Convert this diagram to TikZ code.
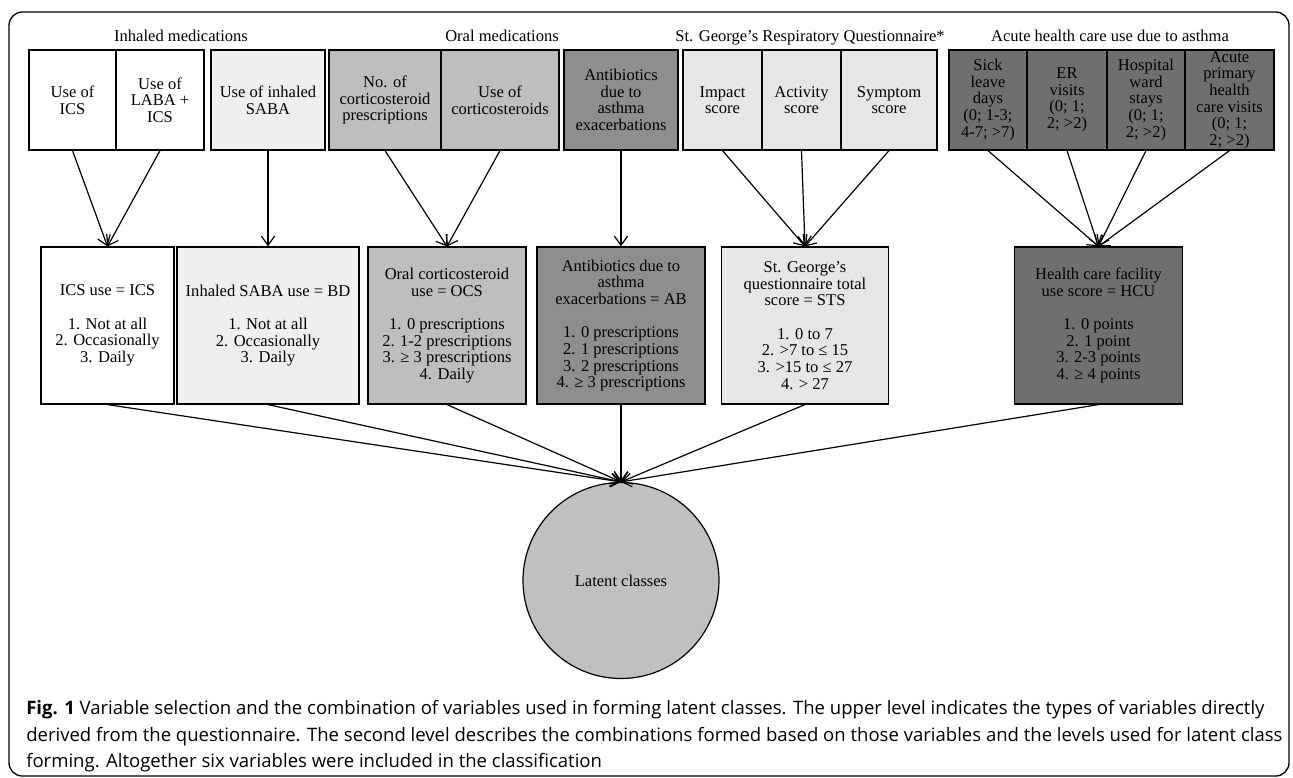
\documentclass[tikz,border=0pt]{standalone}
\usepackage{fontspec}
\setmainfont{Liberation Serif}
\newfontfamily\capfont{Open Sans}
\usetikzlibrary{arrows.meta}

\begin{document}
\begin{tikzpicture}[x=0.75pt,y=0.75pt,yscale=-1,xscale=1,
  txt/.style={font=\fontsize{12.4}{12.5}\selectfont, align=center, inner sep=0pt},
  wd/.style={minimum width=#1*0.75pt},
  varbox/.style={txt, draw, line width=0.9pt, minimum height=75pt},
  combbox/.style={txt, draw, line width=0.9pt, minimum height=117.75pt},
  grouptitle/.style={font=\fontsize{12.4}{12.5}\selectfont, inner sep=0pt, anchor=base},
  arr/.style={line width=0.9pt, -{Straight Barb[length=7pt,width=10pt]}},
  captxt/.style={font=\capfont\fontsize{13.9}{15}\selectfont, inner sep=0pt, anchor=base west}
]
\useasboundingbox (0,0) rectangle (1293,778);

%Shape: Rounded Rect [frame]
\draw [line width=1pt, rounded corners=10pt] (9,12) rectangle (1289,776) ;

% Text Node
\node (tinh) [grouptitle] at (181,41.5) {Inhaled medications};
% Text Node
\node (toral) [grouptitle] at (502,41.5) {Oral medications};
% Text Node
\node (tsgrq) [grouptitle] at (810,41.5) {St. George’s Respiratory Questionnaire*};
% Text Node
\node (tacute) [grouptitle] at (1110,41.5) {Acute health care use due to asthma};

%Shape: Rectangle [upper level]
\node (ics) [varbox, wd=87, fill=white] at (72.5,100) {Use of\\ICS};
\node (laba) [varbox, wd=88, fill=white] at (160,100) {Use of\\LABA +\\ICS};
\node (saba) [varbox, wd=114, fill={rgb,255:red,239;green,239;blue,239}] at (268,100) {Use of inhaled\\SABA};
\node (nocort) [varbox, wd=112, fill={rgb,255:red,190;green,190;blue,190}] at (385,100) {No. of\\corticosteroid\\prescriptions};
\node (usecort) [varbox, wd=118, fill={rgb,255:red,190;green,190;blue,190}] at (500,100) {Use of\\corticosteroids};
\node (abtop) [varbox, wd=114, fill={rgb,255:red,142;green,142;blue,142}] at (621,100) {Antibiotics\\due to\\asthma\\exacerbations};
\node (impact) [varbox, wd=79, fill={rgb,255:red,230;green,230;blue,230}] at (722.5,100) {Impact\\score};
\node (activity) [varbox, wd=79, fill={rgb,255:red,230;green,230;blue,230}] at (801.5,100) {Activity\\score};
\node (symptom) [varbox, wd=96, fill={rgb,255:red,230;green,230;blue,230}] at (889,100) {Symptom\\score};
\node (sick) [varbox, wd=78, fill={rgb,255:red,111;green,111;blue,111}] at (988,100) {Sick\\leave\\days\\(0; 1-3;\\4-7; >7)};
\node (er) [varbox, wd=80, fill={rgb,255:red,111;green,111;blue,111}] at (1067,100) {ER\\visits\\(0; 1;\\2; >2)};
\node (hosp) [varbox, wd=78, fill={rgb,255:red,111;green,111;blue,111}] at (1146,100) {Hospital\\ward\\stays\\(0; 1;\\2; >2)};
\node (acute) [varbox, wd=89, fill={rgb,255:red,111;green,111;blue,111}] at (1229.5,100) {Acute\\primary\\health\\care visits\\(0; 1;\\2; >2)};

%Shape: Rectangle [second level]
\node (icsuse) [combbox, wd=133, fill=white] at (107.5,325.5) {ICS use = ICS\\[12.5pt]1. Not at all\\2. Occasionally\\3. Daily};
\node (sabause) [combbox, wd=182, fill={rgb,255:red,239;green,239;blue,239}] at (268,325.5) {Inhaled SABA use = BD\\[12.5pt]1. Not at all\\2. Occasionally\\3. Daily};
\node (ocs) [combbox, wd=158, fill={rgb,255:red,190;green,190;blue,190}] at (447,325.5) {Oral corticosteroid\\use = OCS\\[12.5pt]1. 0 prescriptions\\2. 1-2 prescriptions\\3. ≥ 3 prescriptions\\4. Daily};
\node (ab) [combbox, wd=168, fill={rgb,255:red,142;green,142;blue,142}] at (621,325.5) {Antibiotics due to\\asthma\\exacerbations = AB\\[12.5pt]1. 0 prescriptions\\2. 1 prescriptions\\3. 2 prescriptions\\4. ≥ 3 prescriptions};
\node (sts) [combbox, wd=167, fill={rgb,255:red,230;green,230;blue,230}] at (805,325.5) {St. George’s\\questionnaire total\\score = STS\\[12.5pt]1. 0 to 7\\2. >7 to ≤ 15\\3. >15 to ≤ 27\\4. > 27};
\node (hcu) [combbox, wd=168, fill={rgb,255:red,111;green,111;blue,111}] at (1098.5,325.5) {Health care facility\\use score = HCU\\[12.5pt]1. 0 points\\2. 1 point\\3. 2-3 points\\4. ≥ 4 points};

%Shape: Circle [latent classes]
\node (latent) [txt, draw, line width=0.9pt, circle, minimum size=147pt, fill={rgb,255:red,192;green,192;blue,192}] at (621,580.5) {Latent classes};

% upper level to second level
\draw [arr] (ics.south) -- (icsuse.north);
\draw [arr] (laba.south) -- (icsuse.north);
\draw [arr] (saba.south) -- (sabause.north);
\draw [arr] (nocort.south) -- (ocs.north);
\draw [arr] (usecort.south) -- (ocs.north);
\draw [arr] (abtop.south) -- (ab.north);
\draw [arr] (impact.south) -- (sts.north);
\draw [arr] (activity.south) -- (sts.north);
\draw [arr] (symptom.south) -- (sts.north);
\draw [arr] (sick.south) -- (hcu.north);
\draw [arr] (er.south) -- (hcu.north);
\draw [arr] (hosp.south) -- (hcu.north);
\draw [arr] (acute.south) -- (hcu.north);

% second level to latent classes
\draw [arr] (icsuse.south) -- (latent.north);
\draw [arr] (sabause.south) -- (latent.north);
\draw [arr] (ocs.south) -- (latent.north);
\draw [arr] (ab.south) -- (latent.north);
\draw [arr] (sts.south) -- (latent.north);
\draw [arr] (hcu.south) -- (latent.north);

% Text Node [caption]
\node (cap1) [captxt] at (26,714) {\textbf{Fig. 1} Variable selection and the combination of variables used in forming latent classes. The upper level indicates the types of variables directly};
\node (cap2) [captxt] at (26,741) {derived from the questionnaire. The second level describes the combinations formed based on those variables and the levels used for latent class};
\node (cap3) [captxt] at (26,767) {forming. Altogether six variables were included in the classification};

\end{tikzpicture}
\end{document}
